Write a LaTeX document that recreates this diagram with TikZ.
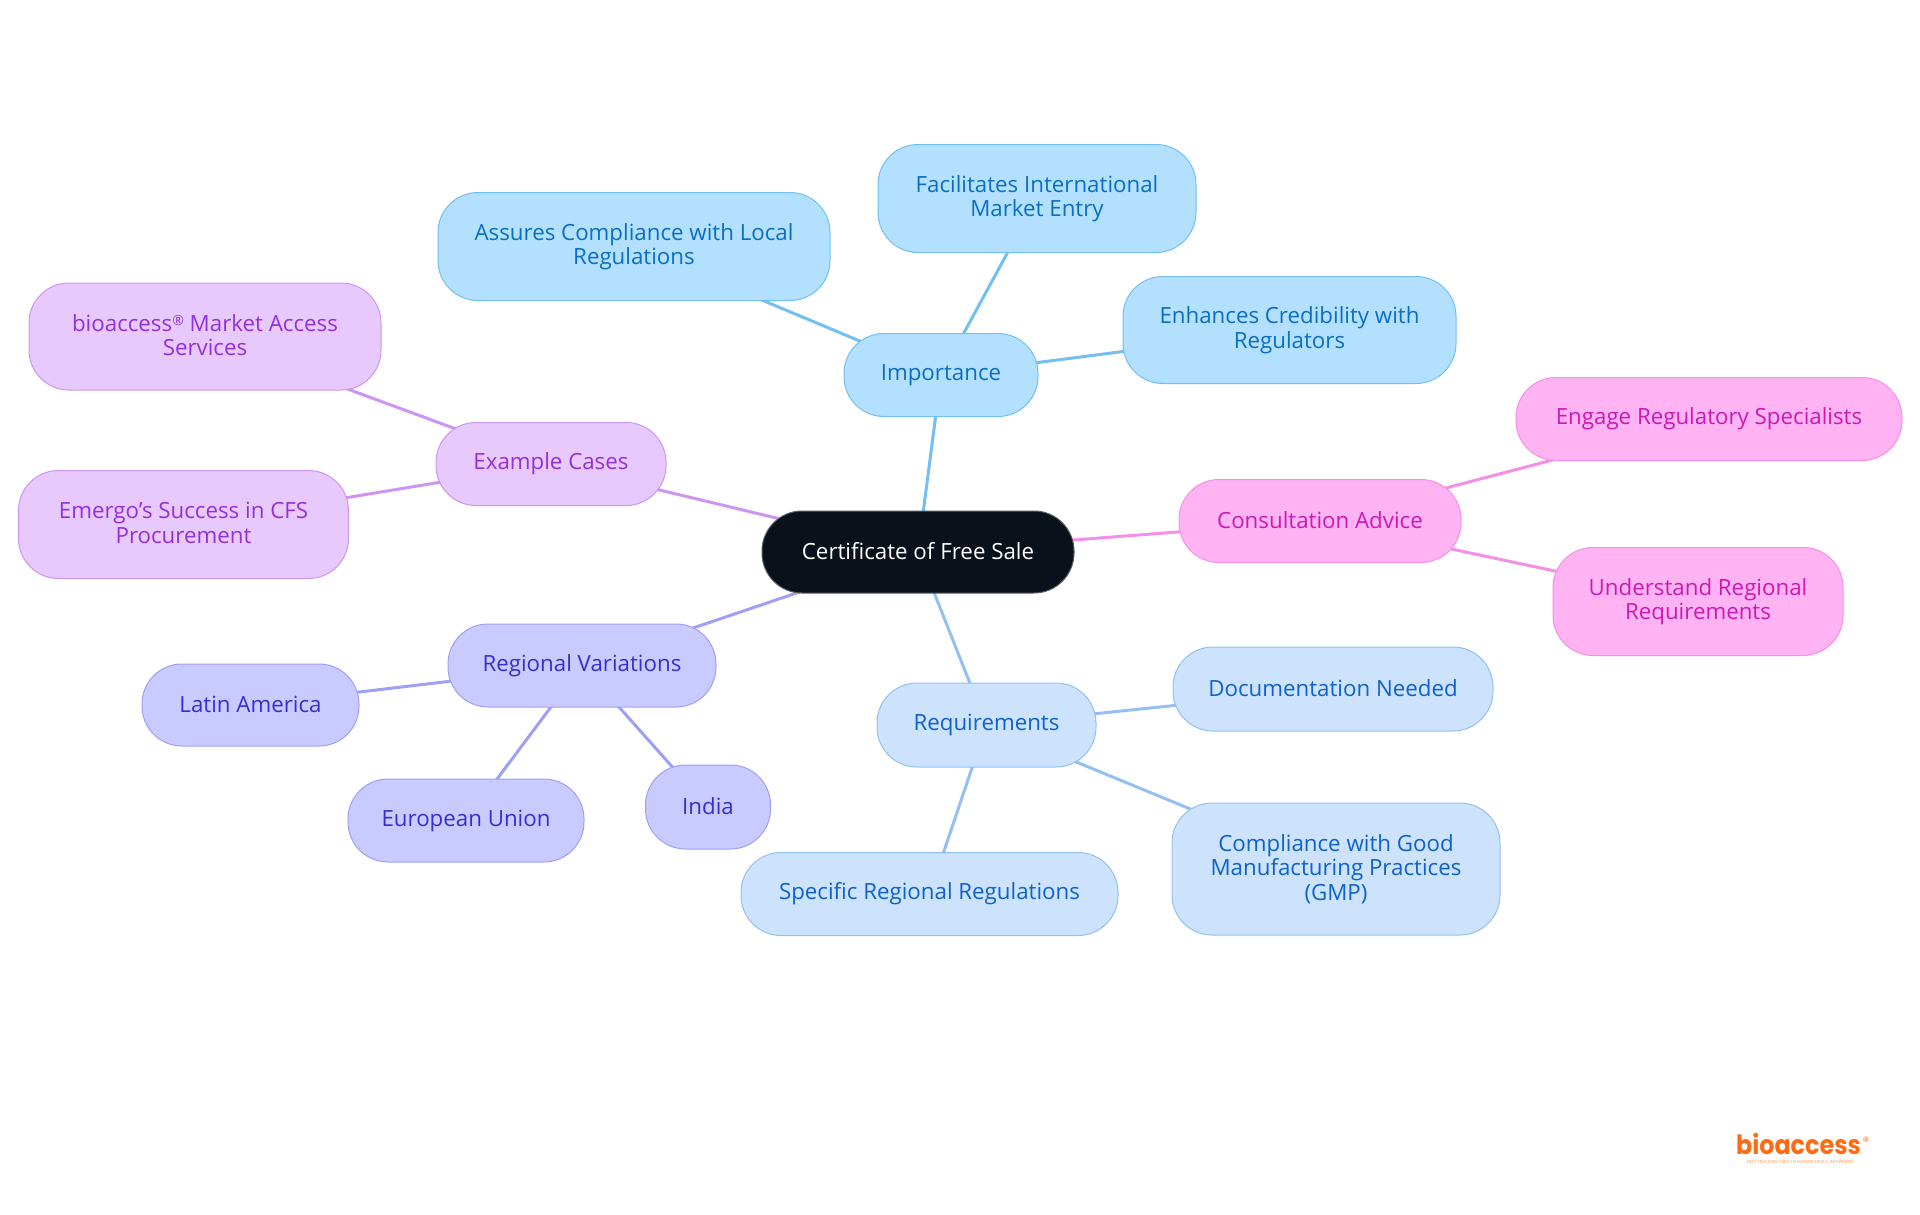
\documentclass[tikz,border=0pt]{standalone}
\usepackage{fontspec}
\setmainfont{Open Sans}
\newfontfamily\logofont{Poppins}
\usetikzlibrary{backgrounds}
\definecolor{rootfill}{HTML}{0B111A}\definecolor{rootline}{HTML}{5A5E66}
\definecolor{impfill}{HTML}{B3E0FF}\definecolor{impline}{HTML}{72BFF2}\definecolor{imptext}{HTML}{0A6FC2}
\definecolor{reqfill}{HTML}{CCE2FD}\definecolor{reqline}{HTML}{93C0F0}\definecolor{reqtext}{HTML}{0E62C9}
\definecolor{regfill}{HTML}{C9CAFF}\definecolor{regline}{HTML}{9F9FF7}\definecolor{regtext}{HTML}{3430D0}
\definecolor{exfill}{HTML}{E8C9FE}\definecolor{exline}{HTML}{CC95F2}\definecolor{extext}{HTML}{9330DD}
\definecolor{confill}{HTML}{FFB3F3}\definecolor{conline}{HTML}{F58EE5}\definecolor{context}{HTML}{CC18B5}
\definecolor{logoorange}{HTML}{FF6A13}
\newcommand{\topstrut}{\vrule width 0pt height 17pt depth 0pt\relax}
\newcommand{\botstrut}{\vrule width 0pt height 0pt depth 3pt\relax}
\newcommand{\regmark}{\raisebox{5.5pt}{\fontsize{14}{14}\selectfont ®}}
\tikzset{
  box/.style={rectangle,rounded corners=40pt,draw,line width=1pt,align=center,inner sep=0pt,
    font=\fontsize{22.3}{24.5}\selectfont,
    execute at begin node=\topstrut,execute at end node=\botstrut},
  rootbox/.style={box,fill=rootfill,draw=rootline,text=white},
  impbox/.style={box,fill=impfill,draw=impline,text=imptext},
  reqbox/.style={box,fill=reqfill,draw=reqline,text=reqtext},
  regbox/.style={box,fill=regfill,draw=regline,text=regtext},
  exbox/.style={box,fill=exfill,draw=exline,text=extext},
  conbox/.style={box,fill=confill,draw=conline,text=context},
  link/.style={line width=3pt},
  sz/.style 2 args={minimum width=#1pt,minimum height=#2pt},
}
\begin{document}
\begin{tikzpicture}[x=1pt,y=-1pt]
\useasboundingbox (0,0) rectangle (1920,1215);
\node[rootbox,sz={312}{82}] (root) at (918,552) {Certificate of Free Sale};
\node[impbox,sz={194}{83}] (imp) at (941,375) {Importance};
\node[impbox,sz={392}{108}] (assures) at (634,246.5) {Assures Compliance with Local\\Regulations};
\node[impbox,sz={318}{108}] (facil) at (1037,198.5) {Facilitates International\\Market Entry};
\node[impbox,sz={333}{107}] (enh) at (1289.5,330) {Enhances Credibility with\\Regulators};
\node[conbox,sz={282}{83}] (con) at (1320,521) {Consultation Advice};
\node[conbox,sz={386}{83}] (eng) at (1709,419) {Engage Regulatory Specialists};
\node[conbox,sz={290}{108}] (und) at (1698,601.5) {Understand Regional\\Requirements};
\node[reqbox,sz={219}{84}] (req) at (986.5,725) {Requirements};
\node[reqbox,sz={320}{84}] (doc) at (1333,689) {Documentation Needed};
\node[reqbox,sz={328}{132}] (gmp) at (1336,869) {Compliance with Good\\Manufacturing Practices\\(GMP)};
\node[reqbox,sz={377}{83}] (spec) at (929.5,894) {Specific Regional Regulations};
\node[regbox,sz={268}{83}] (reg) at (582,665.5) {Regional Variations};
\node[regbox,sz={217}{82}] (lat) at (250.5,705) {Latin America};
\node[regbox,sz={236}{83}] (eu) at (466,820.5) {European Union};
\node[regbox,sz={125}{84}] (ind) at (708,807) {India};
\node[exbox,sz={230}{83}] (ex) at (551,464) {Example Cases};
\node[exbox,sz={352}{107}] (bio) at (205,336.5) {bioaccess\regmark{} Market Access\\Services};
\node[exbox,sz={330}{108}] (emer) at (183.5,524.5) {Emergo's Success in CFS\\Procurement};
\begin{scope}[on background layer]
\draw[link,impline] (root.center) -- (imp.center);
\draw[link,impline] (imp.center) -- (assures.center);
\draw[link,impline] (imp.center) -- (facil.center);
\draw[link,impline] (imp.center) -- (enh.center);
\draw[link,conline] (root.center) -- (con.center);
\draw[link,conline] (con.center) -- (eng.center);
\draw[link,conline] (con.center) -- (und.center);
\draw[link,reqline] (root.center) -- (req.center);
\draw[link,reqline] (req.center) -- (doc.center);
\draw[link,reqline] (req.center) -- (gmp.center);
\draw[link,reqline] (req.center) -- (spec.center);
\draw[link,regline] (root.center) -- (reg.center);
\draw[link,regline] (reg.center) -- (lat.center);
\draw[link,regline] (reg.center) -- (eu.center);
\draw[link,regline] (reg.center) -- (ind.center);
\draw[link,exline] (root.center) -- (ex.center);
\draw[link,exline] (ex.center) -- (bio.center);
\draw[link,exline] (ex.center) -- (emer.center);
\end{scope}
\node[inner sep=0pt,text=logoorange,xscale=.9,transform shape,font=\logofont\bfseries\fontsize{26.5}{26.5}\selectfont] (logo) at (1798.5,1144) {bioaccess};
\node[inner sep=0pt,text=logoorange,font=\fontsize{7.5}{7.5}\selectfont] (logomark) at (1866,1140) {®};
\node[inner sep=0pt,text=logoorange!75,font=\fontsize{4.3}{5}\selectfont] (tag) at (1800,1162) {FAST-TRACKING FIRST-IN-HUMAN TRIALS, ANYWHERE};
\end{tikzpicture}
\end{document}
